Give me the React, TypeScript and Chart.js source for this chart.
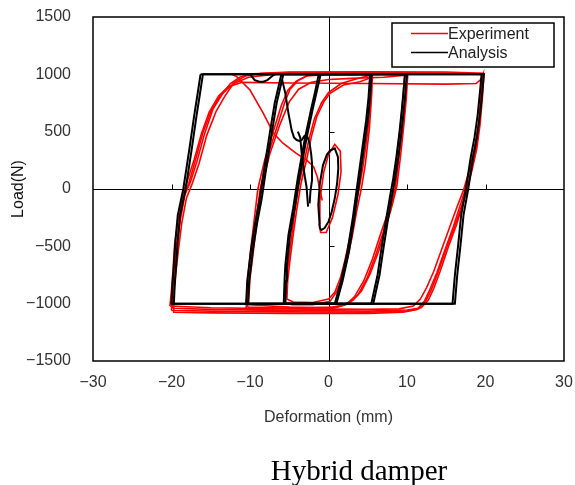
import { useEffect, useRef } from "react";
import { Chart, registerables } from "chart.js";

Chart.register(...registerables);

type P = [number, number];

const seriesNames = ["Experiment", "Analysis"];
const xTicks = [-30, -20, -10, 0, 10, 20, 30];
const yTicks = [-1500, -1000, -500, 0, 500, 1000, 1500];
const captionText = "Hybrid damper";
const xTitle = "Deformation (mm)";
const yTitle = "Load(N)";

// ---- Experiment (red) curves ----
const expLoop20a: P[] = [[-19.9,-1040],[-19.8,-900],[-19.6,-750],[-19.3,-500],[-18.9,-280],[-18.3,-50],[-17.6,60],[-16.8,230],[-15.8,480],[-14.7,700],[-13.5,830],[-12.5,920],[-11.2,980],[-9.5,1005],[-5,1015],[5,1015],[15,1012],[19.8,1005],[19.6,791],[19.3,560],[18.9,355],[18.3,170],[17.6,-23],[17.0,-160],[16.3,-314],[15.3,-500],[14.2,-721],[13.4,-870],[12.7,-970],[11.8,-1035],[10,-1055],[5,-1065],[-5,-1060],[-15,-1050],[-19.9,-1040]];
const expLoop20b: P[] = [[-19.8,-1075],[-19.7,-920],[-19.5,-760],[-19.1,-520],[-18.7,-300],[-18.1,-80],[-17.4,40],[-16.5,220],[-15.5,470],[-14.3,680],[-13.2,810],[-12,930],[-10.6,985],[-8.5,1010],[-5,1020],[5,1022],[15,1020],[19.6,1010],[19.4,800],[19.1,560],[18.6,350],[18.0,170],[17.3,-30],[16.7,-160],[15.9,-330],[14.9,-520],[13.8,-730],[12.9,-880],[12.2,-980],[11.3,-1050],[9.5,-1075],[5,-1085],[-5,-1085],[-15,-1080],[-19.8,-1075]];
const expLoop20c: P[] = [[-20.2,-1020],[-20,-880],[-19.8,-700],[-19.6,-480],[-19.1,-250],[-18.5,-30],[-17.9,90],[-17.1,260],[-16.2,480],[-15.2,670],[-14,810],[-12.8,890],[-11,930],[-5,925],[5,920],[15,915],[18.8,920],[19.5,960],[19.7,1000],[19.5,820],[19.2,600],[18.7,380],[18.0,180],[17.2,-10],[16.4,-150],[15.5,-320],[14.5,-510],[13.4,-720],[12.5,-860],[11.7,-960],[10.8,-1020],[9,-1045],[5,-1050],[-5,-1045],[-15,-1035],[-20.2,-1020]];
const expLoop20d: P[] = [[-20,-1060],[-19.9,-910],[-19.7,-740],[-19.4,-510],[-19.0,-290],[-18.4,-70],[-17.8,50],[-17.0,240],[-16.0,490],[-14.9,690],[-13.7,820],[-12.2,915],[-10.2,975],[-7,1000],[-2,1005],[8,1008],[16,1005],[19.7,1000],[19.5,790],[19.2,570],[18.8,360],[18.2,160],[17.5,-30],[16.8,-180],[16.0,-340],[15.0,-520],[14.0,-720],[13.1,-880],[12.4,-975],[11.5,-1045],[9.8,-1065],[5,-1075],[-5,-1072],[-15,-1065],[-20,-1060]];
const expLoop10a: P[] = [[-10.3,-1030],[-10.1,-800],[-9.8,-600],[-9.3,-300],[-8.7,0],[-7.8,280],[-6.6,532],[-5.6,750],[-4.9,870],[-3.8,950],[-2.5,995],[0,1010],[5,1012],[10,1008],[9.8,800],[9.5,600],[9.1,350],[8.5,0],[7.8,-200],[7,-370],[6,-580],[4.9,-780],[3.8,-920],[2.7,-990],[1,-1030],[-5,-1040],[-10.3,-1030]];
const expLoop10b: P[] = [[-10.5,-1050],[-10.3,-800],[-10,-580],[-9.5,-290],[-9,0],[-8.1,260],[-7,510],[-6,730],[-5.2,860],[-4.1,940],[-2.8,985],[0,1000],[5,1002],[9.7,1000],[9.5,800],[9.2,580],[8.8,330],[8.2,-20],[7.5,-220],[6.6,-400],[5.6,-610],[4.5,-800],[3.3,-940],[2.2,-1010],[0,-1050],[-5,-1060],[-10.5,-1050]];
const expLoop10c: P[] = [[-10.2,-1010],[-10,-780],[-9.6,-560],[-9.1,-270],[-8.5,20],[-7.5,300],[-6.2,560],[-5,760],[-3.8,870],[-2.2,930],[0,955],[3,965],[7,975],[9.5,990],[10.1,1000],[9.9,780],[9.6,560],[9.2,300],[8.7,20],[8,-170],[7.3,-330],[6.4,-540],[5.3,-740],[4.2,-890],[3.1,-970],[1.8,-1015],[0,-1035],[-5,-1030],[-10.2,-1010]];
const expLoop5a: P[] = [[-5.3,-960],[-5.2,-800],[-4.9,-619],[-4.5,-400],[-4.05,-183],[-3.5,50],[-2.8,253],[-2.2,450],[-1.5,630],[-0.6,760],[0.2,834],[1.9,907],[4.0,935],[5.0,960],[5.5,1000],[5.4,800],[5.0,500],[4.4,200],[3.9,0],[3.3,-200],[2.7,-430],[2.1,-620],[1.5,-779],[0.8,-900],[0,-960],[-2,-990],[-4.5,-985],[-5.3,-960]];
const expLoop5b: P[] = [[-5.5,-1000],[-5.4,-820],[-5.1,-640],[-4.7,-420],[-4.3,-200],[-3.8,30],[-3.1,240],[-2.5,430],[-1.8,610],[-0.9,750],[0,840],[1.6,920],[3.5,960],[5.2,990],[5.6,1010],[5.5,820],[5.2,520],[4.7,220],[4.2,10],[3.6,-190],[3.0,-420],[2.4,-610],[1.8,-770],[1.0,-900],[0.2,-980],[-2,-1010],[-4.5,-1010],[-5.5,-1000]];
const expSmall: P[] = [[-1.2,-300],[-1.1,-100],[-0.6,150],[0,300],[0.8,390],[1.5,330],[1.6,150],[1.2,-50],[0.5,-250],[-0.3,-380],[-1.0,-380],[-1.2,-300]];
const expTransient: P[] = [[-12.3,1000],[-11.7,980],[-10,863],[-8.3,660],[-7,486],[-5.8,399],[-4.1,310],[-2.8,253],[-1.9,194],[-1.4,100],[-1.1,-9],[-0.8,-100]];

// ---- Analysis (black) curves ----
const anaLoop20a: P[] = [[-16,1000],[19.8,1000],[19.6,850],[19.3,645],[18.9,450],[18.4,268],[17.8,0],[17.2,-227],[16.8,-500],[16.4,-750],[16.1,-1000],[-19.7,-1000],[-19.6,-850],[-19.4,-663],[-19.2,-450],[-18.9,-227],[-18.2,0],[-17.4,358],[-16.8,645],[-16.4,820],[-16,1000]];
const anaLoop20b: P[] = [[-16.3,1000],[19.5,1000],[19.3,850],[19.0,645],[18.6,450],[18.1,268],[17.5,0],[16.9,-227],[16.5,-500],[16.1,-750],[15.8,-1000],[-20,-1000],[-19.9,-850],[-19.7,-663],[-19.5,-450],[-19.2,-227],[-18.5,0],[-17.7,358],[-17.1,645],[-16.7,820],[-16.3,1000]];
const anaLoop10a: P[] = [[-5.75,1000],[10,1000],[9.8,850],[9.6,700],[9.3,500],[8.9,280],[8.5,93],[8.05,-81],[7.5,-300],[7.0,-517],[6.5,-750],[5.7,-1000],[-10.25,-1000],[-10.1,-800],[-9.6,-517],[-9.1,-300],[-8.5,-81],[-8.0,150],[-7.2,500],[-6.6,750],[-5.75,1000]];
const anaLoop10b: P[] = [[-6.0,1000],[9.75,1000],[9.55,850],[9.35,700],[9.05,500],[8.65,280],[8.25,93],[7.8,-81],[7.25,-300],[6.75,-517],[6.25,-750],[5.45,-1000],[-10.5,-1000],[-10.35,-800],[-9.85,-517],[-9.35,-300],[-8.75,-81],[-8.25,150],[-7.45,500],[-6.85,750],[-6.0,1000]];
const anaLoop5a: P[] = [[-1,1000],[5.5,1000],[5.3,800],[5.0,600],[4.6,400],[4.2,200],[3.8,0],[3.3,-250],[2.6,-550],[1.8,-800],[1.0,-1000],[-5.5,-1000],[-5.4,-800],[-5.3,-663],[-4.9,-400],[-4.3,-168],[-3.7,100],[-2.8,442],[-2.0,700],[-1.5,850],[-1,1000]];
const anaLoop5b: P[] = [[-1.25,1000],[5.3,1000],[5.1,800],[4.8,600],[4.4,400],[4.0,200],[3.6,0],[3.1,-250],[2.4,-550],[1.6,-800],[0.8,-1000],[-5.7,-1000],[-5.6,-800],[-5.5,-663],[-5.1,-400],[-4.5,-168],[-3.9,100],[-3.0,442],[-2.2,700],[-1.7,850],[-1.25,1000]];
const anaSmall: P[] = [[-1.1,-343],[-1.3,-140],[-1.1,50],[-0.7,209],[-0.2,300],[0.2,335],[0.8,355],[1.2,280],[1.25,180],[1.1,50],[0.8,-81],[0.4,-200],[0,-285],[-0.5,-340],[-0.9,-357],[-1.1,-343]];
const anaWiggleTop: P[] = [[-10,1000],[-9.7,975],[-9.4,950],[-8.8,935],[-8.3,935],[-7.8,950],[-7.5,965],[-7.1,990],[-6.8,1000]];
const anaTransientB: P[] = [[-5.9,950],[-5.5,834],[-5.1,660],[-4.7,514],[-4.4,450],[-4.05,427],[-3.7,420],[-3.4,427],[-3.1,460],[-2.8,471],[-2.6,440],[-2.4,398],[-2.2,300],[-2.1,224],[-2.1,78],[-2.3,-20],[-2.4,-125]];
const anaTransientC: P[] = [[-3.9,500],[-3.6,449],[-3.4,300],[-3.2,200],[-3.0,100],[-2.8,20],[-2.6,-154]];

const expCurves: P[][] = [expLoop20a, expLoop20b, expLoop20c, expLoop20d, expLoop10a, expLoop10b, expLoop10c, expLoop5a, expLoop5b, expSmall, expTransient];
const anaCurves: P[][] = [anaLoop20a, anaLoop20b, anaLoop10a, anaLoop10b, anaLoop5a, anaLoop5b, anaSmall, anaWiggleTop, anaTransientB, anaTransientC];

const RED = "#ff0000";
const BLACK = "#000000";
const FONT = "'Liberation Sans', Arial, sans-serif";
const SERIF = "'Liberation Serif', 'Times New Roman', serif";
const fmt = (v: number) => String(v).replace("-", "\u2212");

const framePlugin = {
  id: "framePlugin",
  beforeDatasetsDraw(chart: any) {
    const { ctx, chartArea: a, scales } = chart;
    const xs = scales.x, ys = scales.y;
    const x0 = Math.round(xs.getPixelForValue(0)) + 0.5;
    const y0 = Math.round(ys.getPixelForValue(0)) + 0.5;
    ctx.save();
    ctx.strokeStyle = BLACK;
    ctx.lineWidth = 1;
    ctx.beginPath();
    ctx.moveTo(a.left, y0); ctx.lineTo(a.right, y0);
    ctx.moveTo(x0, a.top); ctx.lineTo(x0, a.bottom);
    xTicks.forEach((v) => {
      if (v === 0 || v === xTicks[0] || v === xTicks[xTicks.length - 1]) return;
      const px = Math.round(xs.getPixelForValue(v)) + 0.5;
      ctx.moveTo(px, y0); ctx.lineTo(px, y0 - 5);
    });
    yTicks.forEach((v) => {
      if (v === 0 || v === yTicks[0] || v === yTicks[yTicks.length - 1]) return;
      const py = Math.round(ys.getPixelForValue(v)) + 0.5;
      ctx.moveTo(x0, py); ctx.lineTo(x0 + 5, py);
    });
    ctx.stroke();
    ctx.restore();
  },
  afterDraw(chart: any) {
    const { ctx, chartArea: a } = chart;
    ctx.save();
    ctx.strokeStyle = BLACK;
    ctx.lineWidth = 1.5;
    ctx.strokeRect(a.left, a.top, a.right - a.left, a.bottom - a.top);
    // legend box
    const bx = a.right - 172, by = a.top + 6, bw = 162, bh = 44;
    ctx.fillStyle = "#ffffff";
    ctx.fillRect(bx, by, bw, bh);
    ctx.lineWidth = 1.5;
    ctx.strokeRect(bx, by, bw, bh);
    const rows: [string, string, number][] = [
      [seriesNames[0], RED, by + 10.5],
      [seriesNames[1], BLACK, by + 29.5],
    ];
    rows.forEach(([label, color, ly]) => {
      ctx.strokeStyle = color;
      ctx.lineWidth = 1.3;
      ctx.beginPath();
      ctx.moveTo(bx + 19, ly);
      ctx.lineTo(bx + 56, ly);
      ctx.stroke();
      ctx.fillStyle = "#222";
      ctx.font = `16px ${FONT}`;
      ctx.textAlign = "left";
      ctx.textBaseline = "middle";
      ctx.fillText(label, bx + 56, ly + 1.5);
    });
    // caption below the figure
    ctx.fillStyle = "#000";
    ctx.font = `29px ${SERIF}`;
    ctx.textAlign = "center";
    ctx.textBaseline = "alphabetic";
    ctx.fillText(captionText, 359, 480);
    ctx.restore();
  },
};

export default function App() {
  const ref = useRef<HTMLCanvasElement>(null);
  useEffect(() => {
    if (!ref.current) return;
    const datasets: any[] = [];
    expCurves.forEach((pts) =>
      datasets.push({
        label: seriesNames[0],
        data: pts.map(([x, y]) => ({ x, y })),
        showLine: true,
        borderColor: RED,
        backgroundColor: RED,
        borderWidth: 1.6,
        pointRadius: 0,
        tension: 0,
        order: 1,
      })
    );
    anaCurves.forEach((pts) =>
      datasets.push({
        label: seriesNames[1],
        data: pts.map(([x, y]) => ({ x, y })),
        showLine: true,
        borderColor: BLACK,
        backgroundColor: BLACK,
        borderWidth: 2,
        pointRadius: 0,
        tension: 0,
        order: 0,
      })
    );
    const hiddenGrid = (len: number) => ({
      display: true,
      drawOnChartArea: false,
      drawTicks: true,
      tickLength: len,
      color: "rgba(0,0,0,0)",
    });
    const chart = new Chart(ref.current, {
      type: "scatter",
      data: { datasets },
      plugins: [framePlugin],
      options: {
        animation: false,
        responsive: false,
        devicePixelRatio: 1,
        layout: { padding: { left: 0, top: 17, right: 11, bottom: 28 } },
        plugins: {
          legend: { display: false },
          tooltip: { enabled: false },
        },
        scales: {
          x: {
            type: "linear",
            min: xTicks[0],
            max: xTicks[xTicks.length - 1],
            afterBuildTicks: (s: any) => { s.ticks = xTicks.map((v) => ({ value: v })); },
            afterFit: (s: any) => { s.height = 96; },
            grid: hiddenGrid(12),
            border: { display: false },
            ticks: {
              autoSkip: false,
              maxRotation: 0,
              padding: 0,
              color: "#333",
              font: { family: FONT, size: 16 },
              callback: (v: any) => fmt(Number(v)),
            },
            title: {
              display: true,
              text: xTitle,
              color: "#333",
              font: { family: FONT, size: 16 },
              padding: { top: 0, bottom: 30 },
            },
          },
          y: {
            type: "linear",
            min: yTicks[0],
            max: yTicks[yTicks.length - 1],
            afterBuildTicks: (s: any) => { s.ticks = yTicks.map((v) => ({ value: v })); },
            afterFit: (s: any) => { s.width = 93; },
            grid: hiddenGrid(22),
            border: { display: false },
            ticks: {
              autoSkip: false,
              padding: 0,
              color: "#333",
              font: { family: FONT, size: 16 },
              callback: (v: any) => fmt(Number(v)),
            },
            title: {
              display: true,
              text: yTitle,
              color: "#111",
              font: { family: FONT, size: 16 },
              padding: { top: 9, bottom: 0 },
            },
          },
        },
      },
    } as any);
    return () => chart.destroy();
  }, []);
  return (
    <div style={{ position: "absolute", left: 0, top: 0, width: 575, height: 485, background: "#fff" }}>
      <canvas ref={ref} width={575} height={485} style={{ display: "block", width: 575, height: 485 }} />
    </div>
  );
}
